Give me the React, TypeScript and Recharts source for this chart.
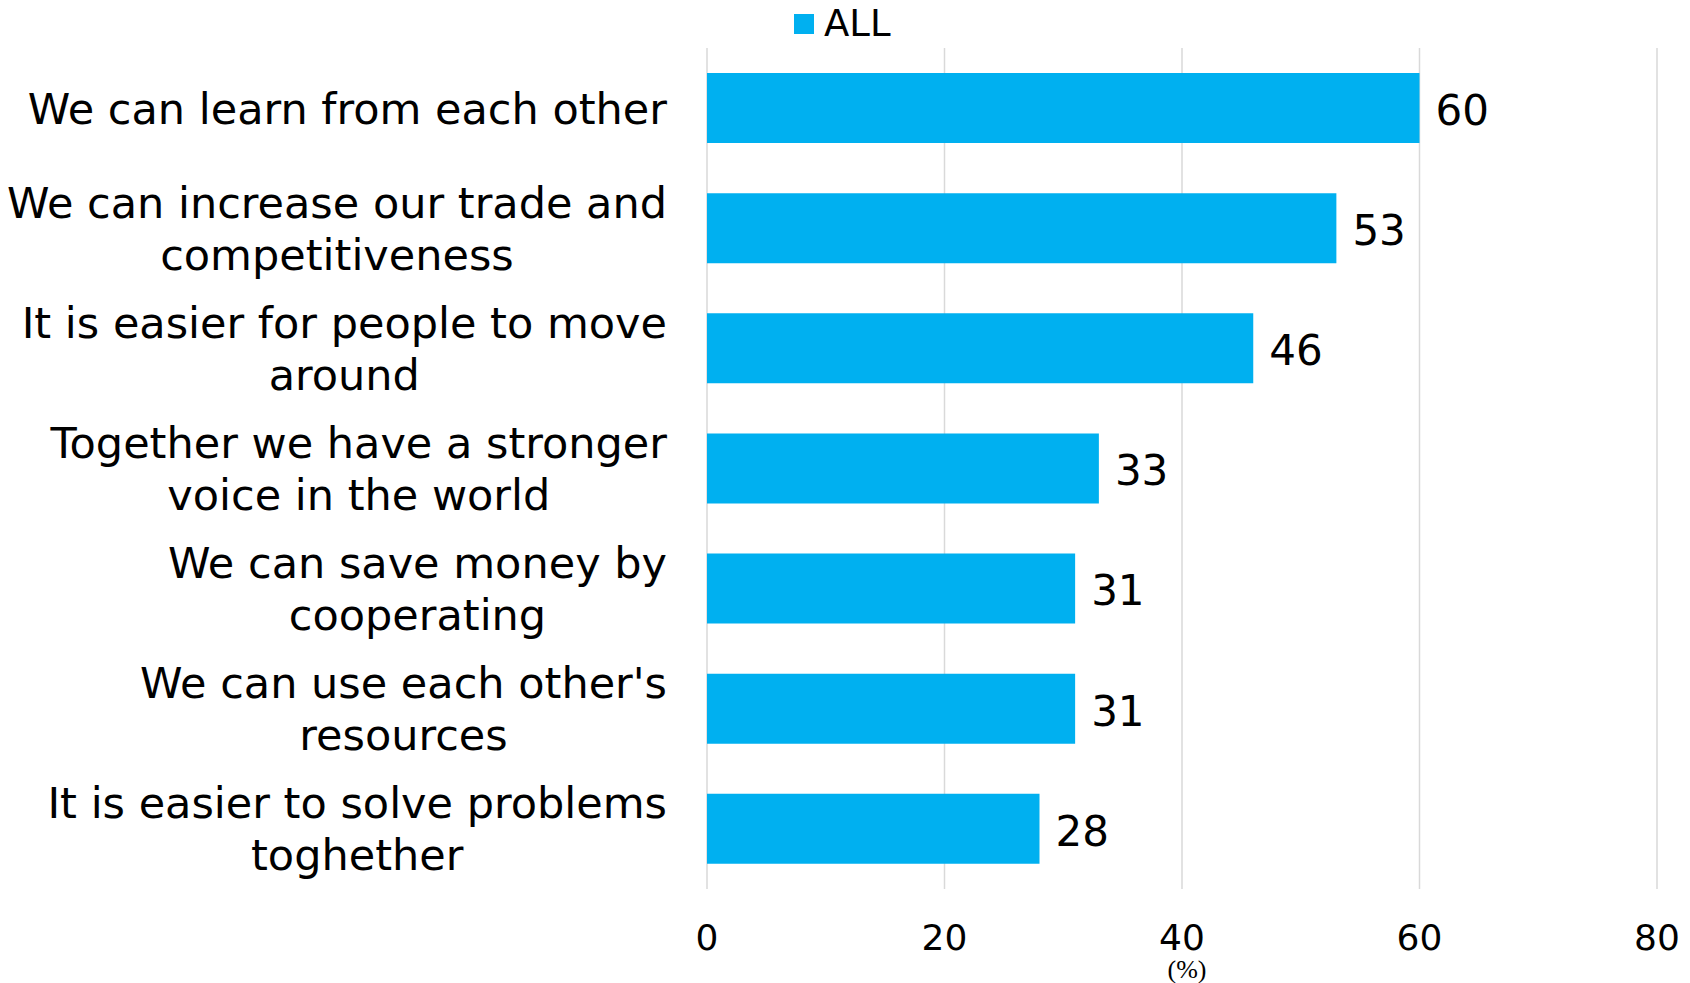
import React from 'react';
import { BarChart, Bar, XAxis, YAxis, CartesianGrid, Legend, LabelList, Label } from 'recharts';

const categories = [
  'We can learn from each other',
  'We can increase our trade and\ncompetitiveness',
  'It is easier for people to move\naround',
  'Together we have a stronger\nvoice in the world',
  'We can save money by\ncooperating',
  "We can use each other's\nresources",
  'It is easier to solve problems\ntoghether',
];
const allValues = [60, 53, 46, 33, 31, 31, 28];
const xTicks = [0, 20, 40, 60, 80];
const seriesName = 'ALL';

const data = categories.map((name, i) => ({ name, [seriesName]: allValues[i] }));

const FONT = "'DejaVu Sans', Verdana, sans-serif";
const BAR_COLOR = '#00B0F0';

let ctx: CanvasRenderingContext2D | null = null;
const measure = (text: string, size: number) => {
  if (!ctx) ctx = document.createElement('canvas').getContext('2d');
  if (!ctx) return text.length * size * 0.55;
  ctx.font = `${size}px 'DejaVu Sans'`;
  return ctx.measureText(text).width;
};

// right-aligned block, lines centred inside it (like the Excel original)
const CategoryTick = (props: any) => {
  const { x, y, payload } = props;
  const lines = String(payload.value).split('\n');
  const size = 43;
  const lineH = 52;
  const right = x - 38;
  const w = Math.max(...lines.map((l) => measure(l, size)));
  const cx = right - w / 2;
  const startY = y - ((lines.length - 1) * lineH) / 2;
  return (
    <text textAnchor="middle" fontFamily={FONT} fontSize={size} fill="#000">
      {lines.map((l, i) => (
        <tspan key={i} x={cx} y={startY + i * lineH} dy="0.36em">
          {l}
        </tspan>
      ))}
    </text>
  );
};

const ValueTick = (props: any) => {
  const { x, y, payload } = props;
  return (
    <text x={x} y={y + 46} dy="0.36em" textAnchor="middle" fontFamily={FONT} fontSize={36} fill="#000">
      {payload.value}
    </text>
  );
};

const renderLegend = () => (
  <div style={{ display: 'flex', alignItems: 'center', fontFamily: FONT, fontSize: 37, color: '#000' }}>
    <span style={{ width: 20, height: 20, background: BAR_COLOR, display: 'inline-block', marginRight: 10 }} />
    <span>{seriesName}</span>
  </div>
);

export default function App() {
  return (
    <div style={{ position: 'absolute', left: 0, top: 0, width: 1690, height: 983, background: '#fff' }}>
      <BarChart
        width={1690}
        height={983}
        data={data}
        layout="vertical"
        barCategoryGap={50}
        margin={{ top: 48, right: 33, left: 0, bottom: 0 }}
      >
        <CartesianGrid horizontal={false} stroke="#D9D9D9" strokeWidth={1.5} />
        <XAxis
          type="number"
          domain={[0, 80]}
          ticks={xTicks}
          axisLine={false}
          tickLine={false}
          tickSize={0}
          height={94}
          tick={<ValueTick />}
          interval={0}
        >
          <Label
            value="(%)"
            position="insideBottom"
            offset={5}
            dx={5}
            style={{ fontFamily: "'Liberation Serif', 'Times New Roman', serif", fontSize: 26, fill: '#000' }}
          />
        </XAxis>
        <YAxis
          type="category"
          dataKey="name"
          width={707}
          axisLine={false}
          tickLine={false}
          tickSize={0}
          tick={<CategoryTick />}
          interval={0}
        />
        <Legend
          layout="vertical"
          align="center"
          verticalAlign="middle"
          content={renderLegend}
          wrapperStyle={{ position: 'absolute', top: 2, left: 794, width: 'auto', height: 'auto' }}
        />
        <Bar dataKey={seriesName} fill={BAR_COLOR} barSize={70} isAnimationActive={false}>
          <LabelList dataKey={seriesName} position="right" offset={16} dy={2} fill="#000" fontSize={42} fontFamily={FONT} />
        </Bar>
      </BarChart>
    </div>
  );
}
